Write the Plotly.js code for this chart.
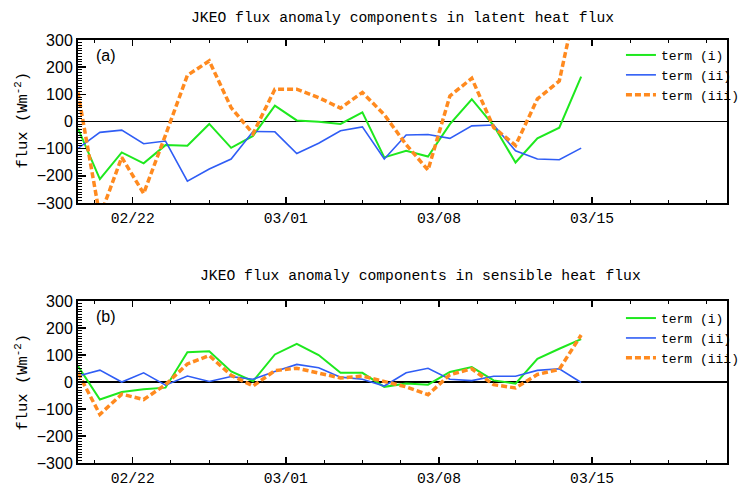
<!DOCTYPE html>
<html>
<head>
<meta charset="utf-8">
<script src="https://cdn.plot.ly/plotly-3.0.1.min.js"></script>
<style>html,body{margin:0;padding:0;background:#fff;}#chart{width:746px;height:488px;}</style>
</head>
<body>
<div id="chart"></div>
<script>
// Daily values at 12:00, 19 Feb – 14 Mar
const dates = ['2019-02-19 12:00','2019-02-20 12:00','2019-02-21 12:00','2019-02-22 12:00','2019-02-23 12:00',
  '2019-02-24 12:00','2019-02-25 12:00','2019-02-26 12:00','2019-02-27 12:00','2019-02-28 12:00',
  '2019-03-01 12:00','2019-03-02 12:00','2019-03-03 12:00','2019-03-04 12:00','2019-03-05 12:00',
  '2019-03-06 12:00','2019-03-07 12:00','2019-03-08 12:00','2019-03-09 12:00','2019-03-10 12:00',
  '2019-03-11 12:00','2019-03-12 12:00','2019-03-13 12:00','2019-03-14 12:00'];

const latentI   = [-26,-212,-114,-154,-87,-89,-9,-97,-53,58,4,-1,-9,34,-132,-108,-129,-10,82,-15,-151,-62,-23,165];
const latentII  = [-99,-40,-32,-82,-72,-220,-175,-138,-37,-38,-118,-80,-34,-20,-138,-50,-48,-62,-16,-13,-108,-138,-141,-98];
const latentIII = [107,-350,-132,-265,-50,170,223,51,-45,119,119,88,49,107,25,-85,-179,94,159,-22,-88,83,149,520];

const sensibleI   = [59,-65,-37,-27,-21,110,114,39,3,102,141,100,34,34,-18,-6,-10,37,55,6,-6,86,123,159];
const sensibleII  = [22,44,0,34,-12,22,2,20,10,39,65,53,18,10,-15,34,51,10,5,21,21,43,49,-2];
const sensibleIII = [34,-120,-45,-65,-10,67,98,25,-15,42,51,34,15,22,2,-18,-47,27,49,-10,-22,28,47,174];

const seriesNames = ['term (i)','term (ii)','term (iii)'];
const yTickVals = [-300,-200,-100,0,100,200,300];
const yTickText = ['\u2212300','\u2212200','\u2212100','0','100','200','300'];
const xRange = ['2019-02-19 12:00','2019-03-21 04:00'];
const panelTitles = ['JKEO flux anomaly components in latent heat flux','JKEO flux anomaly components in sensible heat flux'];
const panelLabels = ['(a)','(b)'];

const GREEN = '#1ee81e', BLUE = '#2f5df5', ORANGE = '#ff8a1f';
const MONO = 'Liberation Mono, DejaVu Sans Mono, monospace';
const SANS = 'Liberation Sans, Arial, sans-serif';

function mk(y, i, xa, ya, leg) {
  const styles = [
    {color: GREEN, width: 2},
    {color: BLUE, width: 1.6},
    {color: ORANGE, width: 3.5, dash: '6px,3px'}
  ];
  return {x: dates, y: y, xaxis: xa, yaxis: ya, type: 'scatter', mode: 'lines',
    name: seriesNames[i], line: styles[i], legend: leg, cliponaxis: true};
}

const data = [
  mk(latentI,0,'x','y','legend'), mk(latentII,1,'x','y','legend'), mk(latentIII,2,'x','y','legend'),
  mk(sensibleI,0,'x2','y2','legend2'), mk(sensibleII,1,'x2','y2','legend2'), mk(sensibleIII,2,'x2','y2','legend2')
];

function xax(anchor) {
  return {anchor: anchor, type: 'date', range: xRange, showgrid: false, zeroline: false,
    tickmode: 'linear', tick0: '2019-02-22', dtick: 7*86400000, tickformat: '%m/%d',
    ticks: 'inside', ticklen: 6, tickwidth: 1.5, tickcolor: '#000',
    showline: true, linewidth: 2, linecolor: '#000', mirror: 'ticks',
    tickfont: {family: MONO, size: 14.7, color: '#000'},
    minor: {tick0: '2019-02-22', dtick: 1.75*86400000, ticks: 'inside', ticklen: 3, tickwidth: 1, tickcolor: '#000', showgrid: false}};
}
function yax(anchor, dom) {
  return {anchor: anchor, domain: dom, range: [-300,300], showgrid: false,
    zeroline: true, zerolinecolor: '#000', zerolinewidth: 1.6,
    tickmode: 'array', tickvals: yTickVals, ticktext: yTickText,
    ticks: 'inside', ticklen: 8, tickwidth: 1.5, tickcolor: '#000',
    showline: true, linewidth: 2, linecolor: '#000', mirror: true,
    tickfont: {family: SANS, size: 16, color: '#000'},
    minor: {dtick: 10, tick0: 0, ticks: 'inside', ticklen: 4, tickwidth: 1, tickcolor: '#000', showgrid: false}};
}
function yright(anchor, over, dom) {
  return {anchor: anchor, overlaying: over, side: 'right', domain: dom, range: [-300,300],
    showgrid: false, zeroline: false, showticklabels: false,
    tickmode: 'array', tickvals: yTickVals, ticks: 'inside', ticklen: 8, tickwidth: 1.5, tickcolor: '#000', showline: false};
}

const topDom = [0.6147, 1.0], botDom = [0, 0.383];
const legendFont = {family: MONO, size: 13, color: '#000'};

const layout = {
  width: 746, height: 488,
  margin: {l: 78, r: 1, t: 40, b: 25},
  paper_bgcolor: '#fff', plot_bgcolor: '#fff',
  showlegend: true,
  xaxis: Object.assign(xax('y'), {domain: [0,1]}),
  xaxis2: Object.assign(xax('y2'), {domain: [0,1]}),
  yaxis: yax('x', topDom),
  yaxis2: yax('x2', botDom),
  yaxis3: yright('x', 'y', topDom),
  yaxis4: yright('x2', 'y2', botDom),
  legend: {x: 0.8366, y: 1.0, xanchor: 'left', yanchor: 'top', bgcolor: 'rgba(0,0,0,0)', borderwidth: 0,
    font: legendFont, tracegroupgap: 0},
  legend2: {x: 0.8366, y: 0.378, xanchor: 'left', yanchor: 'top', bgcolor: 'rgba(0,0,0,0)', borderwidth: 0,
    font: legendFont, tracegroupgap: 0},
  annotations: [
    {text: panelTitles[0], xref: 'paper', yref: 'paper', x: 0.5, y: (463-18)/423, xanchor: 'center', yanchor: 'middle',
      showarrow: false, font: {family: MONO, size: 14.7, color: '#000'}},
    {text: panelTitles[1], xref: 'paper', yref: 'paper', x: 0.528, y: (463-276)/423, xanchor: 'center', yanchor: 'middle',
      showarrow: false, font: {family: MONO, size: 14.7, color: '#000'}},
    {text: panelLabels[0], xref: 'paper', yref: 'paper', x: (94-78)/667, y: (463-55)/423, xanchor: 'left', yanchor: 'middle',
      showarrow: false, font: {family: SANS, size: 16, color: '#000'}},
    {text: panelLabels[1], xref: 'paper', yref: 'paper', x: (94-78)/667, y: (463-316)/423, xanchor: 'left', yanchor: 'middle',
      showarrow: false, font: {family: SANS, size: 16, color: '#000'}},
    {text: 'flux (Wm<sup>-2</sup>)', xref: 'paper', yref: 'paper', x: (20-78)/667, y: (463-120)/423, xanchor: 'center', yanchor: 'middle',
      textangle: -90, showarrow: false, font: {family: MONO, size: 15.5, color: '#000'}},
    {text: 'flux (Wm<sup>-2</sup>)', xref: 'paper', yref: 'paper', x: (20-78)/667, y: (463-382)/423, xanchor: 'center', yanchor: 'middle',
      textangle: -90, showarrow: false, font: {family: MONO, size: 15.5, color: '#000'}}
  ]
};

Plotly.newPlot('chart', data, layout, {displayModeBar: false, staticPlot: true});
</script>
</body>
</html>
